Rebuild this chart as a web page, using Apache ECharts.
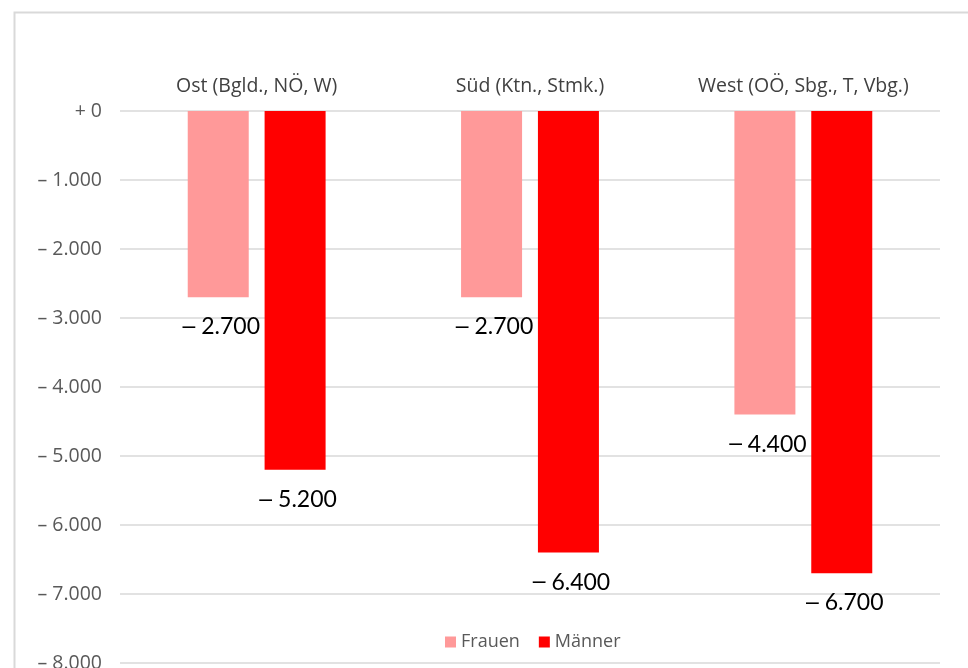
<!DOCTYPE html>
<html>
<head>
<meta charset="utf-8">
<script src="https://cdn.jsdelivr.net/npm/echarts@6/dist/echarts.min.js"></script>
<style>
  html, body { margin: 0; padding: 0; background: #ffffff; }
  #chart { width: 968px; height: 668px; }
</style>
</head>
<body>
<div id="chart"></div>
<script>
// Regions and change per group (persons)
const regions = ['Ost (Bgld., NÖ, W)', 'Süd (Ktn., Stmk.)', 'West (OÖ, Sbg., T, Vbg.)'];
const frauen = [-2700, -2700, -4400];
const maenner = [-5200, -6400, -6700];
const seriesNames = ['Frauen', 'Männer'];
const seriesColors = ['#FF9999', '#FF0000'];

// German thousands separator with explicit sign
function withDots(v) {
  return Math.abs(v).toString().replace(/\B(?=(\d{3})+(?!\d))/g, '.');
}
function fmtSigned(v) {
  if (v === 0) return '+ 0';
  return (v < 0 ? '\u2013 ' : '+ ') + withDots(v);
}
// Bar value label: wide dash + number
function fmtBarValue(v) {
  return '{d|' + (v < 0 ? '\u2013' : '+') + '}{n| ' + withDots(v) + '}';
}

const chart = echarts.init(document.getElementById('chart'), null, { renderer: 'canvas' });

const valueLabel = {
  show: true,
  position: 'bottom',
  distance: 18,
  offset: [3, 0],
  fontFamily: 'Lato',
  fontSize: 23,
  color: '#000000',
  formatter: p => fmtBarValue(p.value),
  rich: {
    d: { fontFamily: 'Liberation Sans', fontSize: 23, color: '#000000' },
    n: { fontFamily: 'Lato', fontSize: 23, color: '#000000' }
  }
};

chart.setOption({
  animation: false,
  backgroundColor: '#ffffff',
  graphic: [{
    type: 'rect',
    left: 12,
    top: 10,
    shape: { width: 1000, height: 700 },
    style: { fill: 'none', stroke: '#d9d9d9', lineWidth: 2 },
    z: -10
  }],
  grid: { left: 120, right: 28, top: 111, bottom: 5, containLabel: false, outerBoundsMode: 'none' },
  legend: {
    data: seriesNames,
    left: 440,
    top: 628,
    itemWidth: 11,
    itemHeight: 11,
    itemGap: 19,
    icon: 'rect',
    textStyle: { fontFamily: 'Open Sans', fontSize: 18, color: '#595959' }
  },
  xAxis: {
    type: 'category',
    data: regions,
    position: 'top',
    axisLine: { show: false },
    axisTick: { show: false },
    axisLabel: { interval: 0, hideOverlap: false, margin: 15, fontFamily: 'Open Sans', fontSize: 19.5, color: '#404040' }
  },
  yAxis: {
    type: 'value',
    min: -8000,
    max: 0,
    interval: 1000,
    axisLine: { show: false },
    axisTick: { show: false },
    splitLine: { lineStyle: { color: '#d9d9d9', width: 1.5 } },
    axisLabel: {
      margin: 18,
      fontFamily: 'Open Sans',
      fontSize: 19.5,
      color: '#595959',
      formatter: v => fmtSigned(v)
    }
  },
  series: [
    {
      name: seriesNames[0],
      type: 'bar',
      data: frauen,
      barWidth: 61,
      barGap: '26%',
      itemStyle: { color: seriesColors[0] },
      label: valueLabel
    },
    {
      name: seriesNames[1],
      type: 'bar',
      data: maenner,
      barWidth: 61,
      barGap: '26%',
      itemStyle: { color: seriesColors[1] },
      label: valueLabel
    }
  ]
});
</script>
</body>
</html>
